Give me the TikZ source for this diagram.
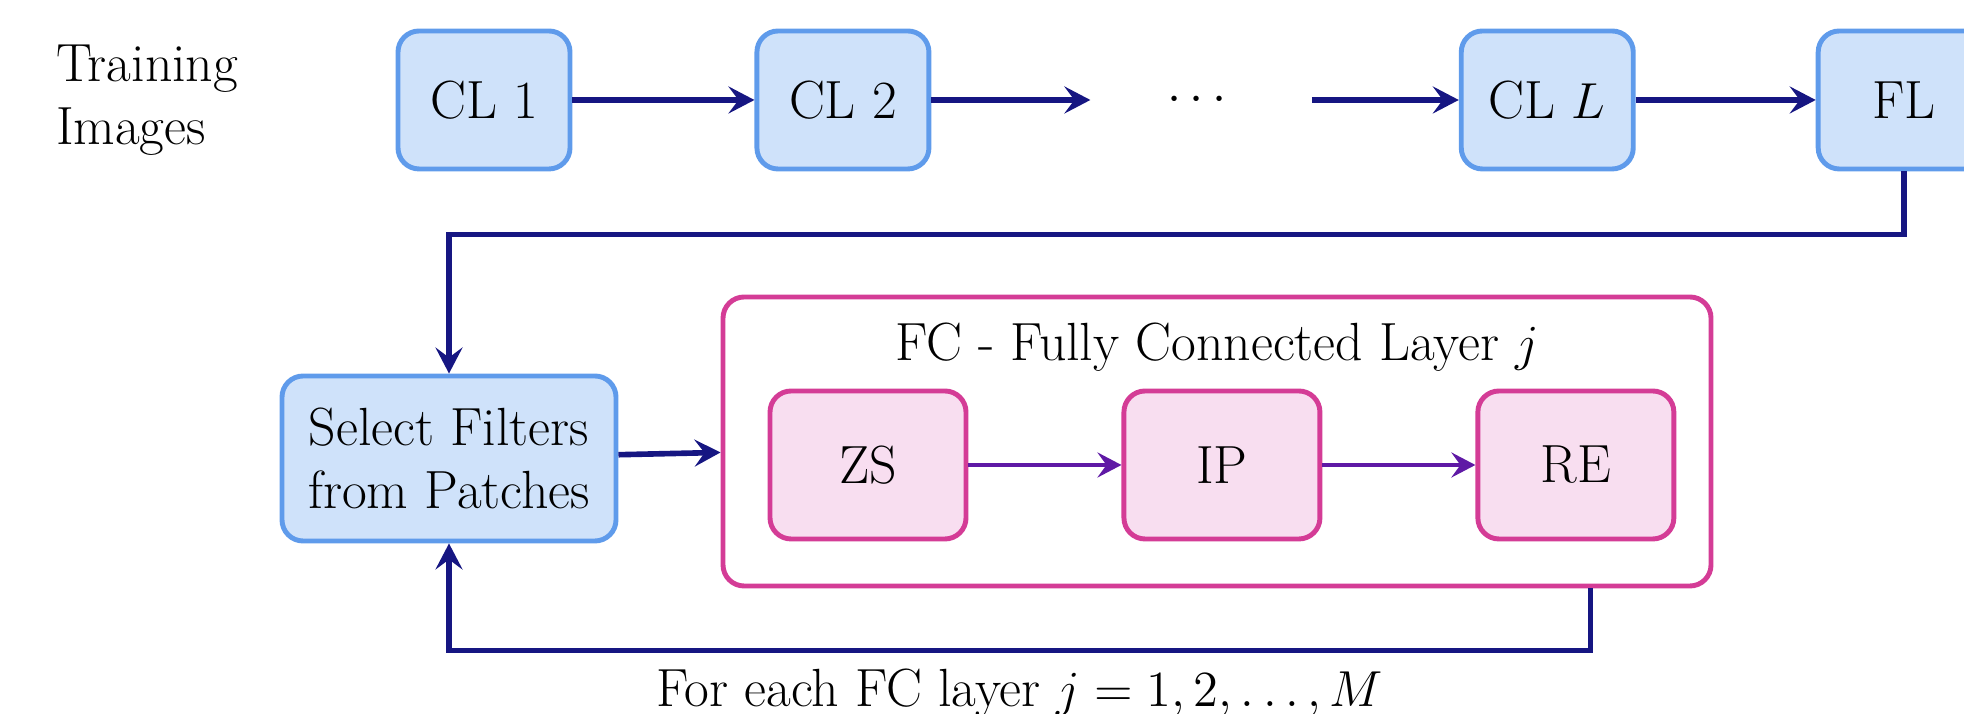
\documentclass[tikz,border=0pt]{standalone}
\usepackage{amsmath,amssymb}
\usepackage{xcolor}
\usepackage{tikz}
\usetikzlibrary{arrows.meta, positioning}
\definecolor{layerblue}{RGB}{207,226,250}
\definecolor{layeredge}{RGB}{95,155,235}
\definecolor{fcpink}{RGB}{248,222,240}
\definecolor{fcedge}{RGB}{212,60,150}
\definecolor{flownavy}{RGB}{22,22,130}
\definecolor{fcpurple}{RGB}{95,25,165}

\begin{document}
\begin{tikzpicture}[
    font=\fontsize{15.3pt}{18pt}\selectfont,
    layer/.style={
        rectangle,
        draw=layeredge,
        fill=layerblue,
        line width=1.4pt,
        rounded corners=6pt,
        inner xsep=3pt,
        minimum height=1.38cm,
        minimum width=1.72cm,
        align=center
    },
    unit/.style={
        rectangle,
        draw=fcedge,
        fill=fcpink,
        line width=1.4pt,
        rounded corners=6pt,
        minimum height=1.48cm,
        minimum width=1.96cm,
        align=center
    },
    fcframe/.style={
        rectangle,
        draw=fcedge,
        fill=white,
        line width=1.4pt,
        rounded corners=6pt,
        minimum height=2.89cm,
        minimum width=9.88cm
    },
    flow/.style={->, >={Stealth[length=2.6mm, width=2.7mm, inset=1mm]}, line width=1.6pt, draw=flownavy},
    subflow/.style={->, >={Stealth[length=2.4mm, width=2.5mm, inset=0.9mm]}, line width=1.3pt, draw=fcpurple}
]
    \useasboundingbox (0,0) rectangle (19.64,7.14);

    % convolution layers
    \node[layer] (cl1) at (4.84,6.14) {CL 1};
    \node[align=left, left=1.45cm of cl1] (train) {Training\\Images};
    \node[layer, right=1.82cm of cl1] (cl2) {CL 2};
    \node[minimum width=2.2cm, minimum height=1.38cm, right=1.59cm of cl2] (dots) {$\cdots$};
    \node[layer, right=1.47cm of dots] (cll) {CL $L$};
    \node[layer, right=1.80cm of cll] (fl) {FL};

    % filter selection and FC block
    \node[layer, minimum width=3.34cm, minimum height=1.65cm] (sel) at (4.49,2.555) {Select Filters\\from Patches};
    \node[fcframe] (fc) at (12.17,2.725) {};
    \node[below=0.16cm of fc.north] (title) {FC - Fully Connected Layer $j$};
    \node[unit] (zs) at (8.68,2.49) {ZS};
    \node[unit, right=1.53cm of zs] (ip) {IP};
    \node[unit, right=1.53cm of ip] (re) {RE};

    \draw[flow] (cl1) -- (cl2);
    \draw[flow] (cl2) -- (dots);
    \draw[flow] (dots) -- (cll);
    \draw[flow] (cll) -- (fl);
    \draw[flow] (fl.south) -- ++(0,-0.63) -| (sel.north);
    \draw[flow] (sel) -- (fc);
    \draw[subflow] (zs) -- (ip);
    \draw[subflow] (ip) -- (re);
    \draw[flow] ([xshift=-1.23cm]fc.south east) -- ++(0,-0.62) coordinate (fbr)
        -- node[below=1pt] (loop) {For each FC layer $j=1,2,\ldots,M$} (fbr -| sel.south) -- (sel.south);
\end{tikzpicture}
\end{document}
